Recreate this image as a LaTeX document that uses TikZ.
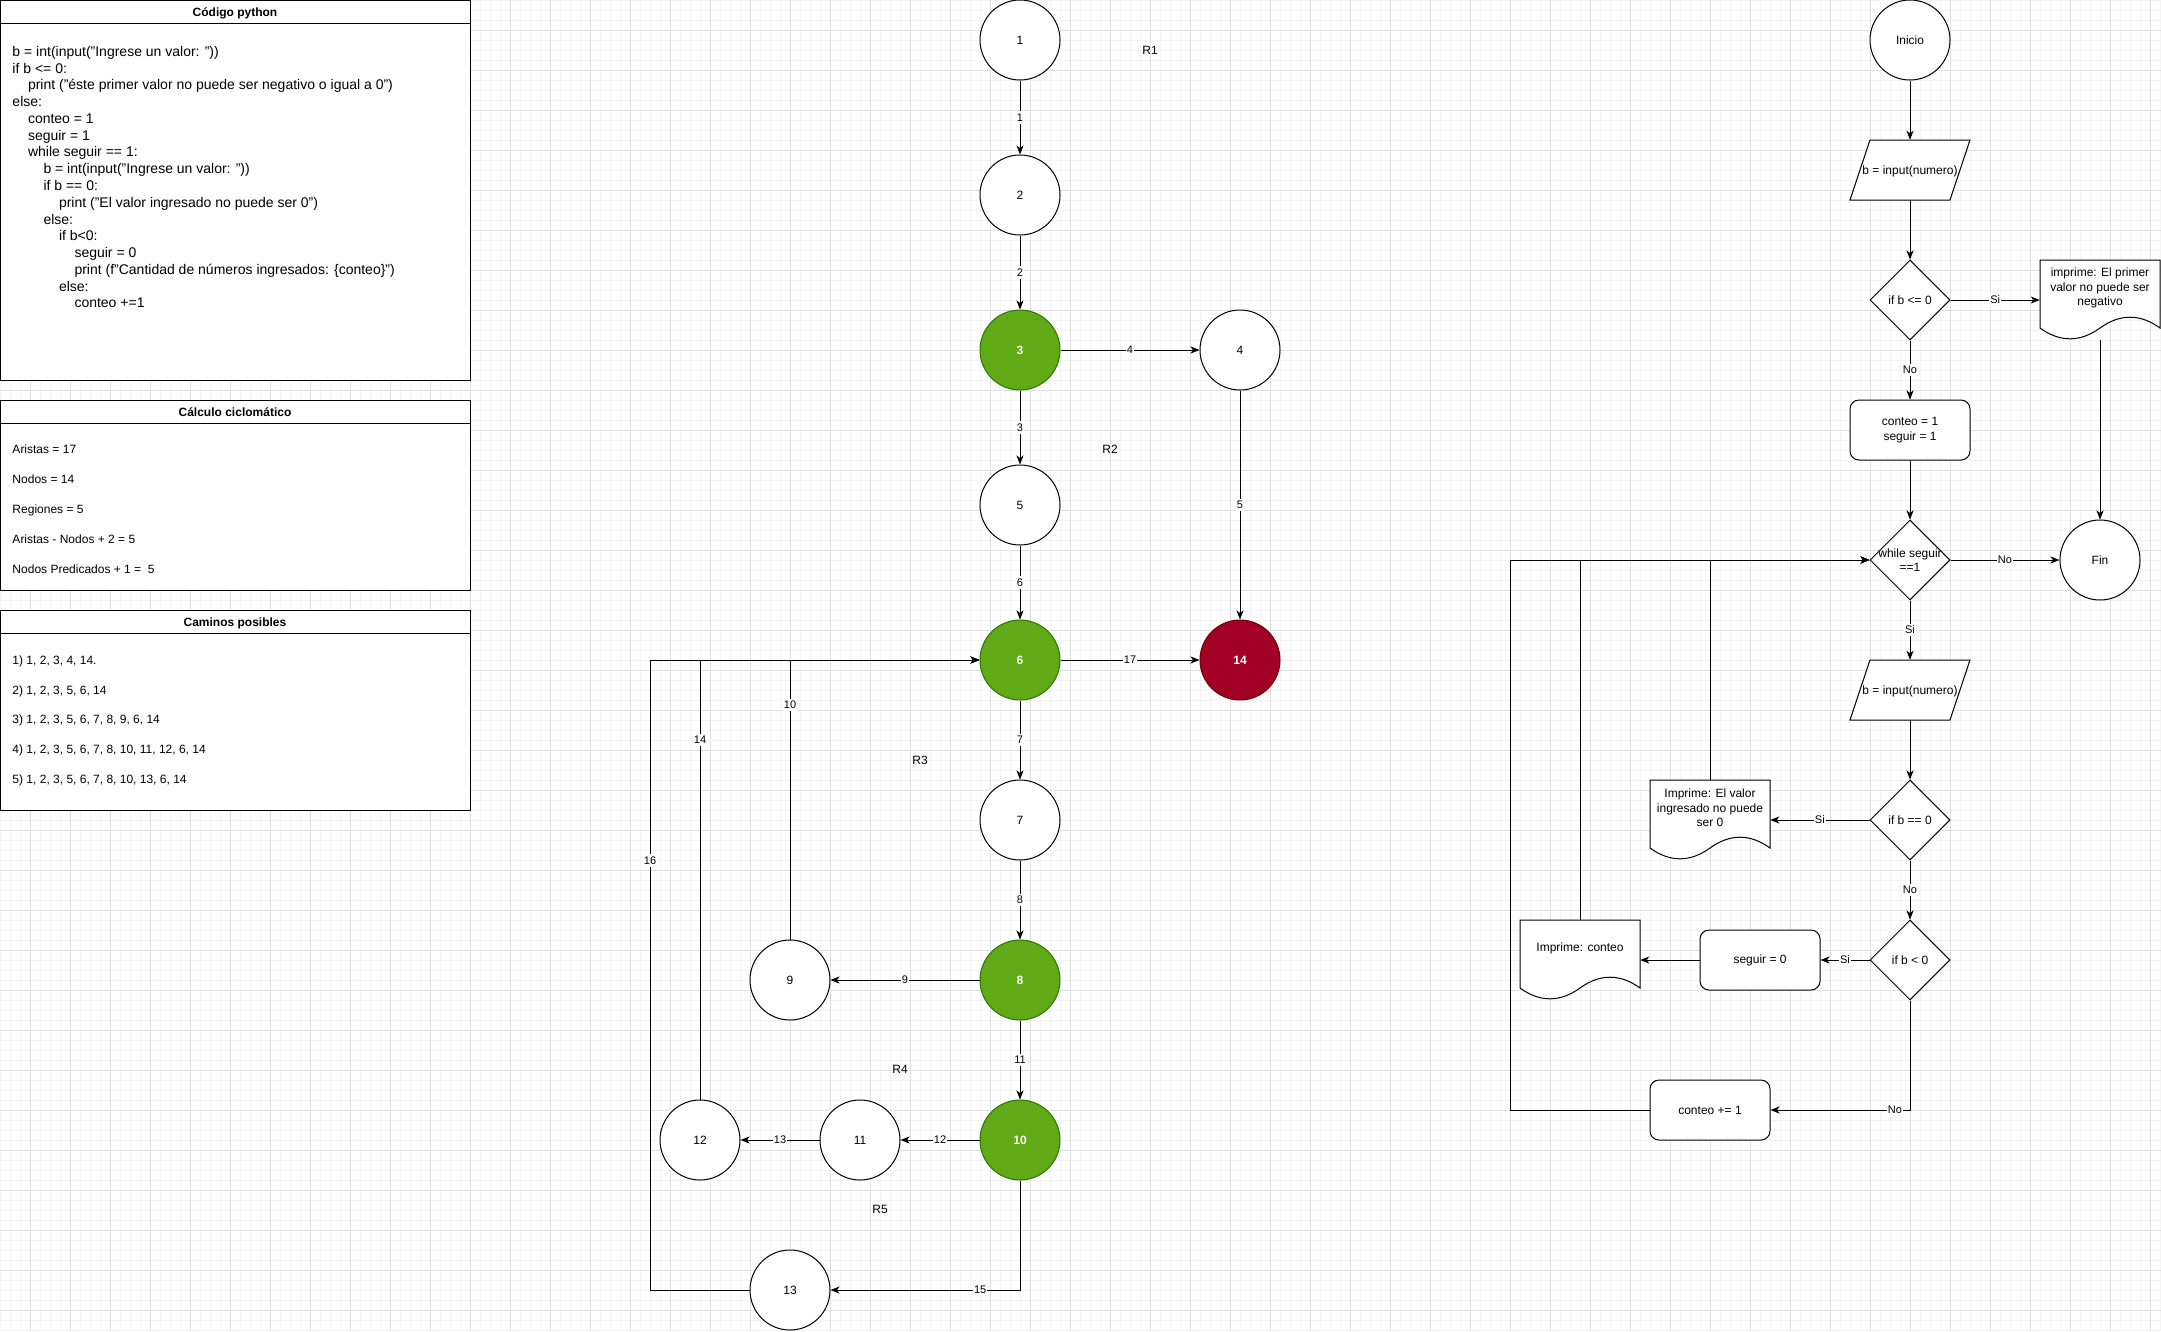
\documentclass[tikz,border=0pt]{standalone}
\usepackage{fontspec}
\setmainfont{Liberation Sans}
\usetikzlibrary{shapes.geometric,arrows.meta,calc}
\definecolor{gfill}{HTML}{60A917}
\definecolor{gline}{HTML}{2D7600}
\definecolor{rfill}{HTML}{A20025}
\definecolor{rline}{HTML}{6F0000}
\definecolor{gridmaj}{HTML}{E0E0E0}
\definecolor{gridmin}{HTML}{F4F4F4}
\newcommand\ftw{\fontsize{12}{14.4}\selectfont}
\newcommand\fcode{\fontsize{14}{16.8}\selectfont}
\newcommand\fel{\fontsize{11}{13.2}\selectfont}
\tikzset{
  ln/.style={line width=1pt, draw=black},
  arr/.style={ln, -{Stealth[length=9pt,width=7pt,inset=2.5pt]}},
  cnode/.style={circle, draw=black, line width=1pt, fill=white, minimum size=80pt, inner sep=0pt, font=\ftw, text height=10.4pt, text depth=2.1pt},
  gnode/.style={cnode, fill=gfill, draw=gline, text=white, font=\ftw\bfseries},
  rnode/.style={cnode, fill=rfill, draw=rline, text=white, font=\ftw\bfseries},
  elab/.style={fill=white, font=\fel, inner sep=1pt, text height=9pt, text depth=1.4pt},
  rlab/.style={font=\ftw, text height=10.4pt, text depth=2.1pt, inner sep=0pt},
  dia/.style={diamond, draw=black, line width=1pt, fill=white, minimum width=80pt, minimum height=80pt, aspect=1, inner sep=0pt, font=\ftw, align=center},
  rbox/.style={rectangle, rounded corners=9pt, draw=black, line width=1pt, fill=white, minimum width=120pt, minimum height=60pt, inner sep=0pt, font=\ftw, align=center},
  ptext/.style={rectangle, minimum width=120pt, minimum height=60pt, inner sep=0pt, font=\ftw, text height=10.4pt, text depth=2.1pt},
  dbox/.style={rectangle, minimum width=120pt, minimum height=80pt, inner sep=0pt},
  dtext/.style={font=\ftw, align=center, inner sep=0pt},
  codeln/.style={anchor=base west, font=\fcode, inner sep=0pt},
  ptitle/.style={font=\ftw\bfseries, text height=10.4pt, text depth=2.1pt, inner sep=0pt},
  pline/.style={anchor=west, font=\ftw, text height=10.4pt, text depth=2.1pt, inner sep=0pt},
  minorg/.style={draw=gridmin, line width=1pt},
  majorg/.style={draw=gridmaj, line width=1pt}
}
\newcommand\paranode[3]{%
  \draw[ln, fill=white] ($#2+(-40,-30)$) -- ($#2+(60,-30)$) -- ($#2+(40,30)$) -- ($#2+(-60,30)$) -- cycle;
  \node[ptext] (#1) at #2 {#3};}
\newcommand\docnode[3]{%
  \draw[ln, fill=white] ($#2+(-60,-40)$) -- ($#2+(60,-40)$) -- ($#2+(60,28)$)
     .. controls ($#2+(40,13.6)$) and ($#2+(20,13.6)$) .. ($#2+(0,28)$)
     .. controls ($#2+(-20,42.4)$) and ($#2+(-40,42.4)$) .. ($#2+(-60,28)$) -- cycle;
  \node[dbox] (#1) at #2 {};
  \node[dtext] (#1t) at ($#2+(0,-12)$) {#3};}
\begin{document}
\begin{tikzpicture}[x=1pt, y=-1pt]
\useasboundingbox (0,0) rectangle (2161,1331);
\fill[white] (0,0) rectangle (2161,1331);
% grid
\foreach \i in {0,...,216} {\draw[minorg] (\i*10+0.7,0) -- (\i*10+0.7,1331);}
\foreach \j in {0,...,133} {\draw[minorg] (0,\j*10+0.7) -- (2161,\j*10+0.7);}
\foreach \i in {0,...,53} {\draw[majorg] (\i*40+30.7,0) -- (\i*40+30.7,1331);}
\foreach \j in {0,...,32} {\draw[majorg] (0,\j*40+30.7) -- (2161,\j*40+30.7);}

% ---------- left panels ----------
\draw[ln, fill=white] (0.5,0.5) rectangle (470.5,380.5);
\draw[ln] (0.5,23.5) -- (470.5,23.5);
\node[ptitle] (t1) at (235,12.5) {Código python};
\node[codeln] (c0) at (12.3,56.3) {b = int(input("Ingrese un valor: "))};
\node[codeln] (c1) at (12.3,73.07) {if b <= 0:};
\node[codeln] (c2) at (27.8,89.84) {print ("éste primer valor no puede ser negativo o igual a 0")};
\node[codeln] (c3) at (12.3,106.61) {else:};
\node[codeln] (c4) at (27.8,123.38) {conteo = 1};
\node[codeln] (c5) at (27.8,140.15) {seguir = 1};
\node[codeln] (c6) at (27.8,156.92) {while seguir == 1:};
\node[codeln] (c7) at (43.3,173.69) {b = int(input("Ingrese un valor: "))};
\node[codeln] (c8) at (43.3,190.46) {if b == 0:};
\node[codeln] (c9) at (58.8,207.23) {print ("El valor ingresado no puede ser 0")};
\node[codeln] (c10) at (43.3,224) {else:};
\node[codeln] (c11) at (58.8,240.77) {if b<0:};
\node[codeln] (c12) at (74.3,257.54) {seguir = 0};
\node[codeln] (c13) at (74.3,274.31) {print (f"Cantidad de números ingresados: \{conteo\}")};
\node[codeln] (c14) at (58.8,291.08) {else:};
\node[codeln] (c15) at (74.3,307.85) {conteo +=1};

\draw[ln, fill=white] (0.5,400.5) rectangle (470.5,590.5);
\draw[ln] (0.5,423.5) -- (470.5,423.5);
\node[ptitle] (t2) at (235,412.3) {Cálculo ciclomático};
\node[pline] (k1) at (12.3,449) {Aristas = 17};
\node[pline] (k2) at (12.3,479) {Nodos = 14};
\node[pline] (k3) at (12.3,509) {Regiones = 5};
\node[pline] (k4) at (12.3,539) {Aristas - Nodos + 2 = 5};
\node[pline] (k5) at (12.3,569) {Nodos Predicados + 1 = \ 5};

\draw[ln, fill=white] (0.5,610.5) rectangle (470.5,810.5);
\draw[ln] (0.5,633.5) -- (470.5,633.5);
\node[ptitle] (t3) at (235,622.7) {Caminos posibles};
\node[pline] (m1) at (12.3,660.5) {1) 1, 2, 3, 4, 14.};
\node[pline] (m2) at (12.3,690) {2) 1, 2, 3, 5, 6, 14};
\node[pline] (m3) at (12.3,719.5) {3) 1, 2, 3, 5, 6, 7, 8, 9, 6, 14};
\node[pline] (m4) at (12.3,749.5) {4) 1, 2, 3, 5, 6, 7, 8, 10, 11, 12, 6, 14};
\node[pline] (m5) at (12.3,779.5) {5) 1, 2, 3, 5, 6, 7, 8, 10, 13, 6, 14};

% ---------- flow graph ----------
\node[cnode] (n1) at (1020,40) {1};
\node[cnode] (n2) at (1020,195) {2};
\node[gnode] (n3) at (1020,350) {3};
\node[cnode] (n4) at (1240,350) {4};
\node[cnode] (n5) at (1020,505) {5};
\node[gnode] (n6) at (1020,660) {6};
\node[rnode] (n14) at (1240,660) {14};
\node[cnode] (n7) at (1020,820) {7};
\node[gnode] (n8) at (1020,980) {8};
\node[cnode] (n9) at (790,980) {9};
\node[gnode] (n10) at (1020,1140) {10};
\node[cnode] (n11) at (860,1140) {11};
\node[cnode] (n12) at (700,1140) {12};
\node[cnode] (n13) at (790,1290) {13};
\coordinate (c16) at (650,1290);

\draw[arr] (n1) -- node[elab]{1} (n2);
\draw[arr] (n2) -- node[elab]{2} (n3);
\draw[arr] (n3) -- node[elab]{3} (n5);
\draw[arr] (n3) -- node[elab]{4} (n4);
\draw[arr] (n4) -- node[elab]{5} (n14);
\draw[arr] (n5) -- node[elab]{6} (n6);
\draw[arr] (n6) -- node[elab]{7} (n7);
\draw[arr] (n7) -- node[elab]{8} (n8);
\draw[arr] (n8) -- node[elab]{9} (n9);
\draw[arr] (n9.north) |- node[elab,pos=0.42]{10} (n6.west);
\draw[arr] (n8) -- node[elab]{11} (n10);
\draw[arr] (n10) -- node[elab]{12} (n11);
\draw[arr] (n11) -- node[elab]{13} (n12);
\draw[arr] (n12.north) |- node[elab,pos=0.409]{14} (n6.west);
\draw[arr] (n10.south) |- node[elab,pos=0.605]{15} (n13.east);
\draw[arr] (n13.west) -- (c16) |- node[elab,pos=0.341]{16} (n6.west);
\draw[arr] (n6) -- node[elab]{17} (n14);

\node[rlab] (reg1) at (1150,50) {R1};
\node[rlab] (reg2) at (1110,449) {R2};
\node[rlab] (reg3) at (920,760) {R3};
\node[rlab] (reg4) at (900,1069) {R4};
\node[rlab] (reg5) at (880,1209) {R5};

% ---------- flowchart ----------
\node[cnode] (ini) at (1910,40) {Inicio};
\paranode{p1}{(1910,170)}{b = input(numero)}
\node[dia] (d1) at (1910,300) {\makebox[0pt]{if b <= 0}};
\docnode{doc1}{(2100,300)}{imprime: El primer\\valor no puede ser\\negativo}
\node[rbox] (r1) at (1910,430) {conteo = 1\\seguir = 1};
\node[dia] (d2) at (1910,560) {\makebox[0pt]{while seguir}\\\makebox[0pt]{==1}};
\node[cnode] (fin) at (2100,560) {Fin};
\paranode{p2}{(1910,690)}{b = input(numero)}
\node[dia] (d3) at (1910,820) {\makebox[0pt]{if b == 0}};
\docnode{doc2}{(1710,820)}{Imprime: El valor\\ingresado no puede\\ser 0}
\node[dia] (d4) at (1910,960) {\makebox[0pt]{if b < 0}};
\node[rbox] (r2) at (1760,960) {seguir = 0};
\docnode{doc3}{(1580,960)}{Imprime: conteo}
\node[rbox] (r3) at (1710,1110) {conteo += 1};
\coordinate (c1510) at (1510,1110);

\draw[arr] (ini) -- (p1);
\draw[arr] (p1) -- (d1);
\draw[arr] (d1) -- node[elab]{Si} (doc1.west);
\draw[arr] (d1) -- node[elab]{No} (r1);
\draw[arr] (r1) -- (d2);
\draw[arr] (doc1.south) -- (fin.north);
\draw[arr] (d2) -- node[elab]{No} (fin);
\draw[arr] (d2) -- node[elab]{Si} (p2);
\draw[arr] (p2) -- (d3);
\draw[arr] (d3) -- node[elab]{Si} (doc2.east);
\draw[arr] (d3) -- node[elab]{No} (d4);
\draw[arr] (d4) -- node[elab]{Si} (r2);
\draw[arr] (r2) -- (doc3.east);
\draw[arr] (d4.south) |- node[elab,pos=0.554]{No} (r3.east);
\draw[arr] (r3.west) -- (c1510) |- (d2.west);
\draw[arr] (doc3.north) |- (d2.west);
\draw[arr] (doc2.north) |- (d2.west);
\end{tikzpicture}
\end{document}
